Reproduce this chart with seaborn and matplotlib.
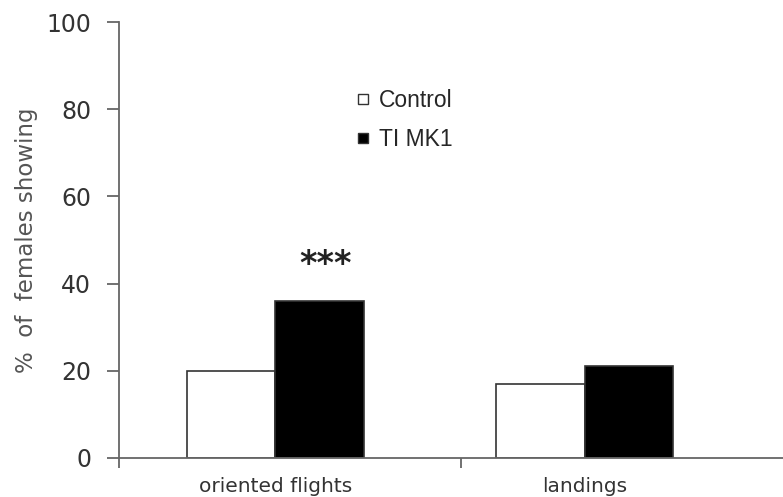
import pandas as pd
import matplotlib.pyplot as plt
import seaborn as sns
from matplotlib.lines import Line2D

# values
categories = ['oriented flights', 'landings']
groups = ['Control', 'TI MK1']
control = [20, 17]
ti_mk1 = [36, 21]
stars = ['***', '']

df = pd.DataFrame({
    'behaviour': categories * 2,
    'group': [groups[0]] * 2 + [groups[1]] * 2,
    'pct': control + ti_mk1,
})

sns.set_style('white')
plt.rcParams['font.family'] = ['DejaVu Sans']

fig = plt.figure(figsize=(7.83, 4.97), dpi=100)
ax = fig.add_axes([0.152, 0.0785, 0.848, 0.877])

colors = {'Control': 'white', 'TI MK1': 'black'}
sns.barplot(data=df, x='behaviour', y='pct', hue='group', order=categories,
            hue_order=groups, palette=colors, edgecolor='#333333', linewidth=1.2,
            width=0.57, legend=False, ax=ax)

ax.set_xlim(-0.506, 1.642)
ax.set_ylim(0, 100)
ax.set_yticks(range(0, 101, 20))

# significance stars over the TI MK1 bars
ti_bars = ax.patches[len(categories):2 * len(categories)]
for bar, s in zip(ti_bars, stars):
    if s:
        ax.text(bar.get_x() + bar.get_width() / 2 + 0.02, bar.get_height() + 8.5, s,
                ha='center', va='center', fontsize=24, fontweight='semibold', color='#222222')

sns.despine(ax=ax, top=True, right=True)
for sp in ['left', 'bottom']:
    ax.spines[sp].set_color('#666666')
    ax.spines[sp].set_linewidth(1.3)

ax.tick_params(axis='y', direction='out', length=9, width=1.3, color='#666666',
               labelsize=17, labelcolor='#333333', pad=11, left=True)
ax.tick_params(axis='x', which='major', length=0, labelsize=14.5,
               labelcolor='#333333', pad=14)
ax.set_xticks([-0.506, 0.6], minor=True)
ax.tick_params(axis='x', which='minor', direction='out', length=7, width=1.3,
               color='#666666', bottom=True)

ax.set_xlabel('')
ax.set_ylabel('%  of  females showing', fontsize=16.5, color='#555555', labelpad=6)

handles = [Line2D([0], [0], marker='s', linestyle='', markersize=6.5,
                  markerfacecolor=colors[g], markeredgecolor='#333333', label=g)
           for g in groups]
ax.legend(handles=handles, loc='upper left', bbox_to_anchor=(0.355, 0.846),
          frameon=False, handlelength=0.7, handletextpad=0.35, labelspacing=0.7,
          borderpad=0, borderaxespad=0,
          prop={'family': 'Liberation Sans', 'size': 16.5})

fig.savefig('out.png', dpi=100)
